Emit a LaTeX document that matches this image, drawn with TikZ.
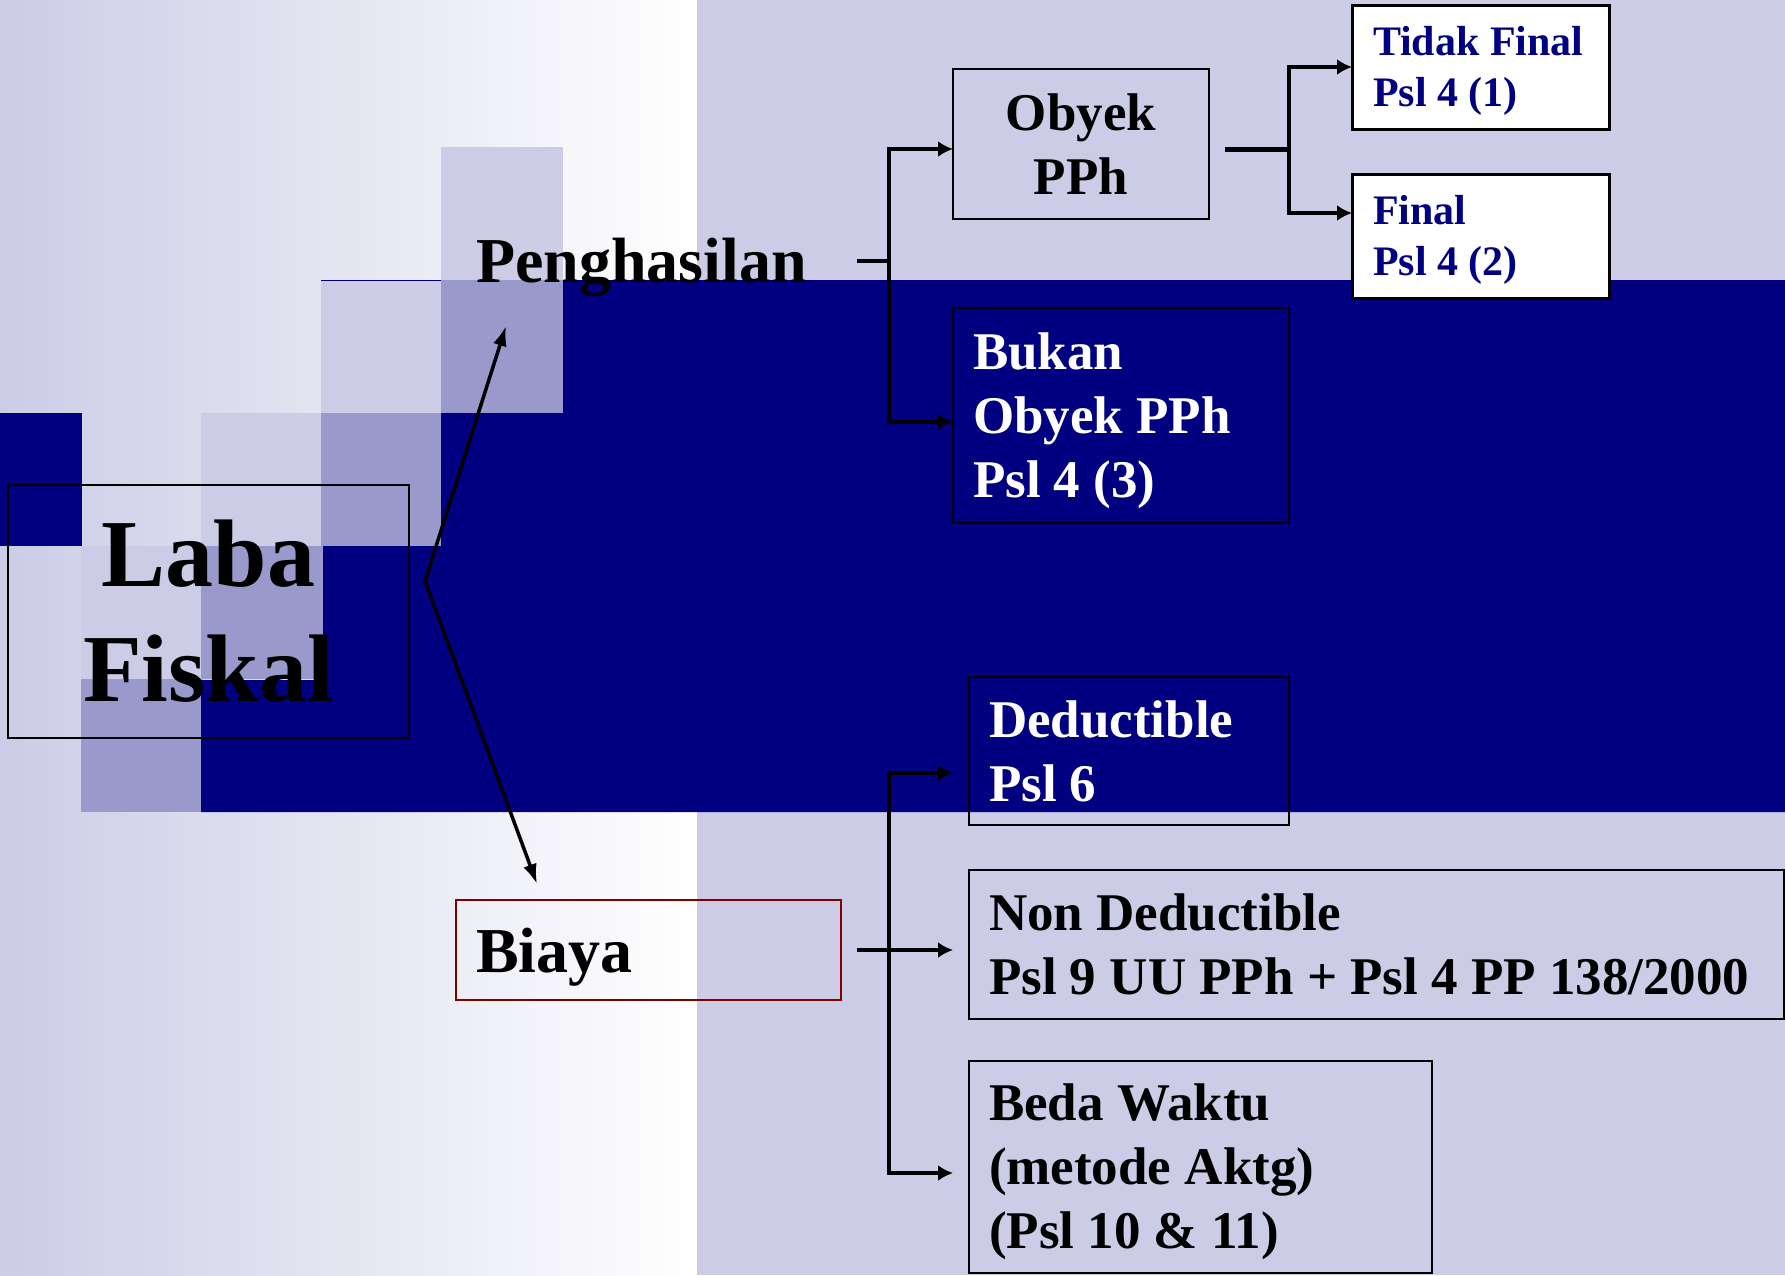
\documentclass[tikz,border=0pt]{standalone}
\usepackage{fontspec}
\setmainfont{Liberation Serif}
\usetikzlibrary{arrows.meta}

\definecolor{navy}{RGB}{0,0,128}
\definecolor{lav}{RGB}{204,204,230}
\definecolor{midlav}{RGB}{153,153,204}
\definecolor{darkred}{RGB}{128,0,0}

\tikzset{
  box/.style={draw, line width=2.5pt, anchor=north west, inner ysep=0pt, outer sep=0pt},
  body/.style={font=\bfseries\fontsize{53}{64}\selectfont},
  big/.style={font=\bfseries\fontsize{64}{77}\selectfont},
  small/.style={font=\bfseries\fontsize{42}{51}\selectfont},
  conn/.style={line width=3.3pt},
  arr/.style={line width=3.3pt, -{Latex[length=15pt,width=16pt]}},
}

\begin{document}
\begin{tikzpicture}[x=1pt,y=-1pt]
\useasboundingbox (0,0) rectangle (1785,1275);
% background and staircase squares
\fill[left color=lav, right color=white] (0,0) rectangle (697,1275);
\fill[lav] (697,0) rectangle (1785,1275);
\foreach\i in {0,1,2,3} {
\fill[lav] (441-120*\i,147+133*\i) rectangle +(122,133);
}
\foreach\i in {0,1,2,3} {
\fill[midlav] (441-120*\i,280+133*\i) rectangle +(122,133);
}
\fill[navy] (563,280) -| (1785,812) -| (201,680) -| (323,546) -| (441,413) -| (563,280) -- cycle;
\fill[navy] (0,413) rectangle (82,546);
\draw[navy, line width=1pt] (321,280) -- (441,280);

% boxes
\node[box, line width=2pt, minimum width=401pt, minimum height=253pt, align=center,
  font=\bfseries\fontsize{96}{115}\selectfont] (laba) at (8,485) {Laba\\Fiskal};
\node[anchor=base west, inner sep=0pt, big] (peng) at (476,282) {Penghasilan};
\node[box, draw=darkred, line width=2pt, minimum width=385pt, minimum height=100pt,
  inner xsep=20pt, text width=345pt, align=flush left, big] (biaya) at (456,900) {\rule{0pt}{58pt}Biaya};

\node[box, minimum width=256pt, minimum height=150pt, align=center, body] (obyek) at (953,69) {Obyek\\PPh};
\node[box, line width=3pt, fill=white, text=navy, minimum width=257pt, minimum height=124pt,
  inner xsep=21pt, text width=215pt, align=flush left, small] (tidak) at (1352,5) {\rule{0pt}{36pt}Tidak Final\\Psl 4 (1)};
\node[box, line width=3pt, fill=white, text=navy, minimum width=257pt, minimum height=124pt,
  inner xsep=21pt, text width=215pt, align=flush left, small] (final) at (1352,174) {\rule{0pt}{36pt}Final\\Psl 4 (2)};
\node[box, text=white, minimum width=336pt, minimum height=215pt,
  inner xsep=20pt, text width=296pt, align=flush left, body] (bukan) at (953,308) {\rule{0pt}{47pt}Bukan\\Obyek PPh\\Psl 4 (3)};

\node[box, text=white, minimum width=320pt, minimum height=148pt,
  inner xsep=20pt, text width=280pt, align=flush left, body] (deduct) at (969,677) {Deductible\\Psl 6};
\node[box, minimum width=815pt, minimum height=149pt,
  inner xsep=20pt, text width=775pt, align=flush left, body] (nondeduct) at (969,870) {Non Deductible\\Psl 9 UU PPh + Psl 4 PP 138/2000};
\node[box, minimum width=463pt, minimum height=212pt,
  inner xsep=20pt, text width=423pt, align=flush left, body] (beda) at (969,1061) {\rule{0pt}{47pt}Beda Waktu\\(metode Aktg)\\(Psl 10 \& 11)};

% connectors
\coordinate (fork) at (425,581);
\coordinate (pengtip) at (506,326);
\coordinate (biayatip) at (537,884);
\draw[line width=3.5pt, {Latex[length=20pt,width=14pt]}-{Latex[length=20pt,width=14pt]}] (pengtip) -- (fork) -- (biayatip);

\coordinate (pengout) at (857,261);
\coordinate (pengbus) at (889,261);
\draw[conn] (pengout) -- (pengbus);
\draw[arr] (pengbus) |- ([yshift=-5pt]obyek.west);
\draw[arr] (pengbus) |- ([yshift=-6.5pt]bukan.west);

\coordinate (objout) at ([xshift=16pt,yshift=-5pt]obyek.east);
\coordinate (objbus) at ([xshift=80pt,yshift=-5pt]obyek.east);
\draw[line width=5pt] (objout) -- (objbus);
\draw[arr] (objbus) |- (tidak.west);
\draw[arr] (objbus) |- ([yshift=23pt]final.west);

\coordinate (costout) at ([xshift=16pt]biaya.east);
\coordinate (costbus) at ([xshift=48pt]biaya.east);
\draw[arr] (costout) -- ([xshift=-16pt]nondeduct.west |- costout);
\draw[arr] (costbus) |- ([xshift=-16pt,yshift=-22pt]deduct.west);
\draw[arr] (costbus) |- ([xshift=-16pt,yshift=-6pt]beda.west);
\end{tikzpicture}
\end{document}
